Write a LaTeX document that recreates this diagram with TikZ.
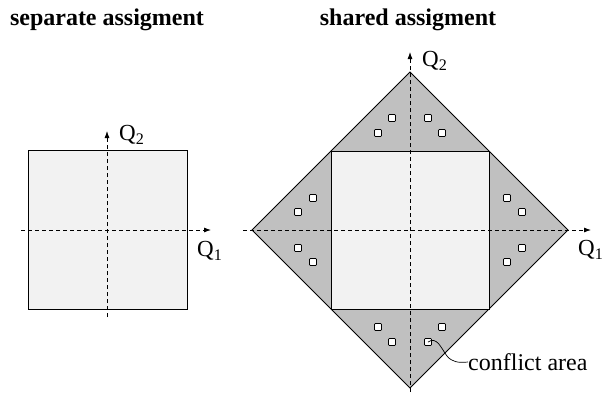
\documentclass[tikz,border=0pt]{standalone}
\usepackage{fontspec}
\setmainfont{Liberation Serif}
\usetikzlibrary{arrows.meta}
\definecolor{lightfill}{HTML}{F2F2F2}
\definecolor{darkfill}{HTML}{C0C0C0}
\tikzset{
  axis/.style={dashed, dash pattern=on 4pt off 3pt, line width=0.8pt, -{Latex[length=7pt,width=5pt]}},
  region/.style={draw=black, line width=0.8pt},
  cbox/.style={draw=black, fill=white, line width=0.7pt, minimum size=7pt, inner sep=0pt, rounded corners=0.8pt},
  title/.style={font=\fontsize{24}{26}\selectfont\bfseries},
  qlabel/.style={font=\fontsize{23}{25}\selectfont, inner sep=0pt, anchor=west},
  clabel/.style={font=\fontsize{24}{26}\selectfont, inner sep=0pt, anchor=west},
}
\begin{document}
\begin{tikzpicture}[x=1pt, y=-1pt]
\useasboundingbox (0,0) rectangle (605,392);
% titles
\node[title] (t1) at (107,20) {separate assigment};
\node[title] (t2) at (408,20) {shared assigment};
% left square
\node[region, fill=lightfill, minimum size=159pt, inner sep=0pt] (lsq) at (108,230) {};
\coordinate (lvb) at (107,317);
\coordinate (lvt) at (107,131);
\coordinate (lhl) at (21,230);
\coordinate (lhr) at (211,230);
\draw[axis] (lvb) -- (lvt);
\draw[axis] (lhl) -- (lhr);
\node[qlabel] (lq2) at (119,135) {Q\textsubscript{2}};
\node[qlabel] (lq1) at (197,251) {Q\textsubscript{1}};
% right diamond
\coordinate (dT) at (410,72);
\coordinate (dL) at (252,230);
\coordinate (dR) at (568,230);
\coordinate (dB) at (410,388);
\draw[region, fill=darkfill] (dT) -- (dR) -- (dB) -- (dL) -- cycle;
\node[region, fill=lightfill, minimum size=158pt, inner sep=0pt] (rsq) at (410,230) {};
% conflict boxes
\foreach \u/\v [count=\i] in {18/112, 32/97} {
  \node[cbox] (ct\i a) at (410-\u,230-\v) {};
  \node[cbox] (ct\i b) at (410+\u,230-\v) {};
  \node[cbox] (cl\i a) at (410-\v,230-\u) {};
  \node[cbox] (cl\i b) at (410-\v,230+\u) {};
  \node[cbox] (cr\i a) at (410+\v,230-\u) {};
  \node[cbox] (cr\i b) at (410+\v,230+\u) {};
  \node[cbox] (cb\i a) at (410-\u,230+\v) {};
  \node[cbox] (cb\i b) at (410+\u,230+\v) {};
}
\coordinate (rvb) at (410,392);
\coordinate (rvt) at (410,52);
\coordinate (rhl) at (243,230);
\coordinate (rhr) at (591,230);
\draw[axis] (rvb) -- (rvt);
\draw[axis] (rhl) -- (rhr);
\node[qlabel] (rq2) at (422,61) {Q\textsubscript{2}};
\node[qlabel] (rq1) at (578,250) {Q\textsubscript{1}};
% conflict area label
\node[clabel] (ca) at (468,362) {conflict area};
\draw[line width=0.7pt] (cb1b.center) .. controls (437,336) and (441,348) .. (447,356)
  .. controls (452,362) and (458,363) .. (ca.west);
\end{tikzpicture}
\end{document}
